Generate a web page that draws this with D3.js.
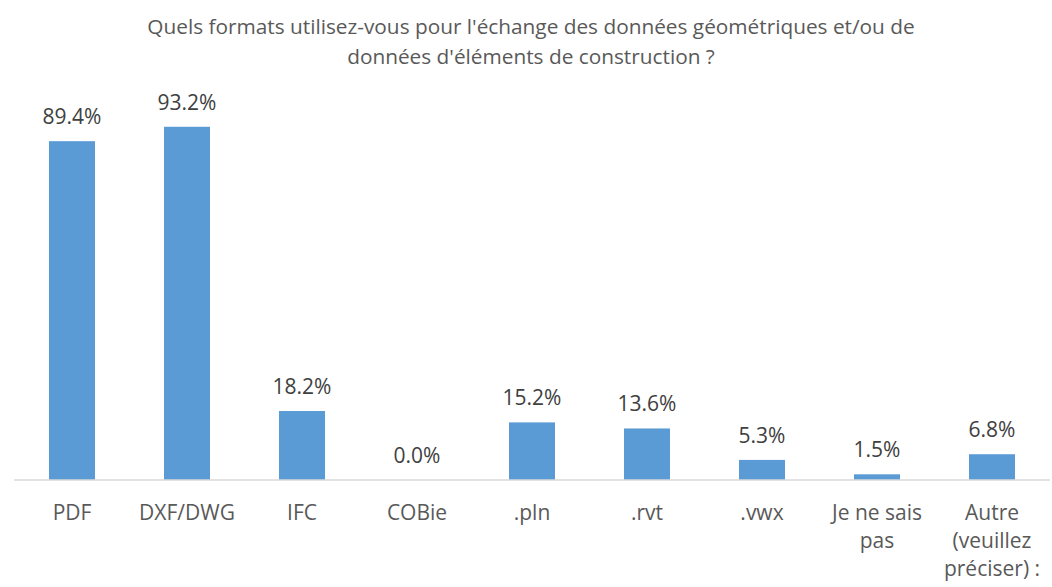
<!DOCTYPE html>
<html>
<head>
<meta charset="utf-8">
<script src="https://cdn.jsdelivr.net/npm/d3@7"></script>
<style>
  body { margin: 0; background: #fff; }
  svg text { font-family: "Open Sans", sans-serif; }
</style>
</head>
<body>
<div id="chart"></div>
<script>
// data
var categories = [['PDF'], ['DXF/DWG'], ['IFC'], ['COBie'], ['.pln'], ['.rvt'], ['.vwx'],
  ['Je ne sais', 'pas'], ['Autre', '(veuillez', 'préciser) :']]
var values = [89.4, 93.2, 18.2, 0.0, 15.2, 13.6, 5.3, 1.5, 6.8]
var titleLines = ["Quels formats utilisez-vous pour l'échange des données géométriques et/ou de",
  "données d'éléments de construction ?"]

const svgWidth = 1052
const svgHeight = 587
const baseY = 480

var svg = d3.select('#chart').append('svg')
  .attr('width', svgWidth)
  .attr('height', svgHeight)

const x = d3.scaleBand()
  .domain(d3.range(categories.length))
  .range([14.5, 1049.5])
  .paddingInner(0.6)
  .paddingOuter(0.3)

const y = d3.scaleLinear().domain([0, 100]).range([baseY, 101])

// title
svg.append('g').selectAll('text')
  .data(titleLines)
  .enter().append('text')
  .attr('x', 531)
  .attr('y', (d, i) => 34 + i * 30)
  .attr('text-anchor', 'middle')
  .attr('fill', '#595959')
  .style('font-size', '20.8px')
  .text(d => d)

// bars
svg.append('g').selectAll('rect')
  .data(values)
  .enter().append('rect')
  .attr('x', (d, i) => x(i))
  .attr('width', x.bandwidth())
  .attr('y', d => y(d))
  .attr('height', d => y(0) - y(d))
  .attr('fill', '#5b9bd5')

// axis line
svg.append('line')
  .attr('x1', 14).attr('x2', 1050)
  .attr('y1', baseY).attr('y2', baseY)
  .attr('stroke', '#d9d9d9')
  .attr('stroke-width', 1.5)

// value labels
svg.append('g').selectAll('text')
  .data(values)
  .enter().append('text')
  .attr('x', (d, i) => x(i) + x.bandwidth() / 2)
  .attr('y', d => y(d) - 17)
  .attr('text-anchor', 'middle')
  .attr('fill', '#404040')
  .style('font-size', '21px')
  .text(d => d.toFixed(1) + '%')

// category labels
var catG = svg.append('g').selectAll('text')
  .data(categories)
  .enter().append('text')
  .attr('text-anchor', 'middle')
  .attr('fill', '#595959')
  .style('font-size', '21px')
  .attr('transform', (d, i) => `translate(${x(i) + x.bandwidth() / 2}, 520)`)

catG.selectAll('tspan')
  .data(d => d)
  .enter().append('tspan')
  .attr('x', 0)
  .attr('y', (d, i) => i * 28)
  .text(d => d)
</script>
</body>
</html>
